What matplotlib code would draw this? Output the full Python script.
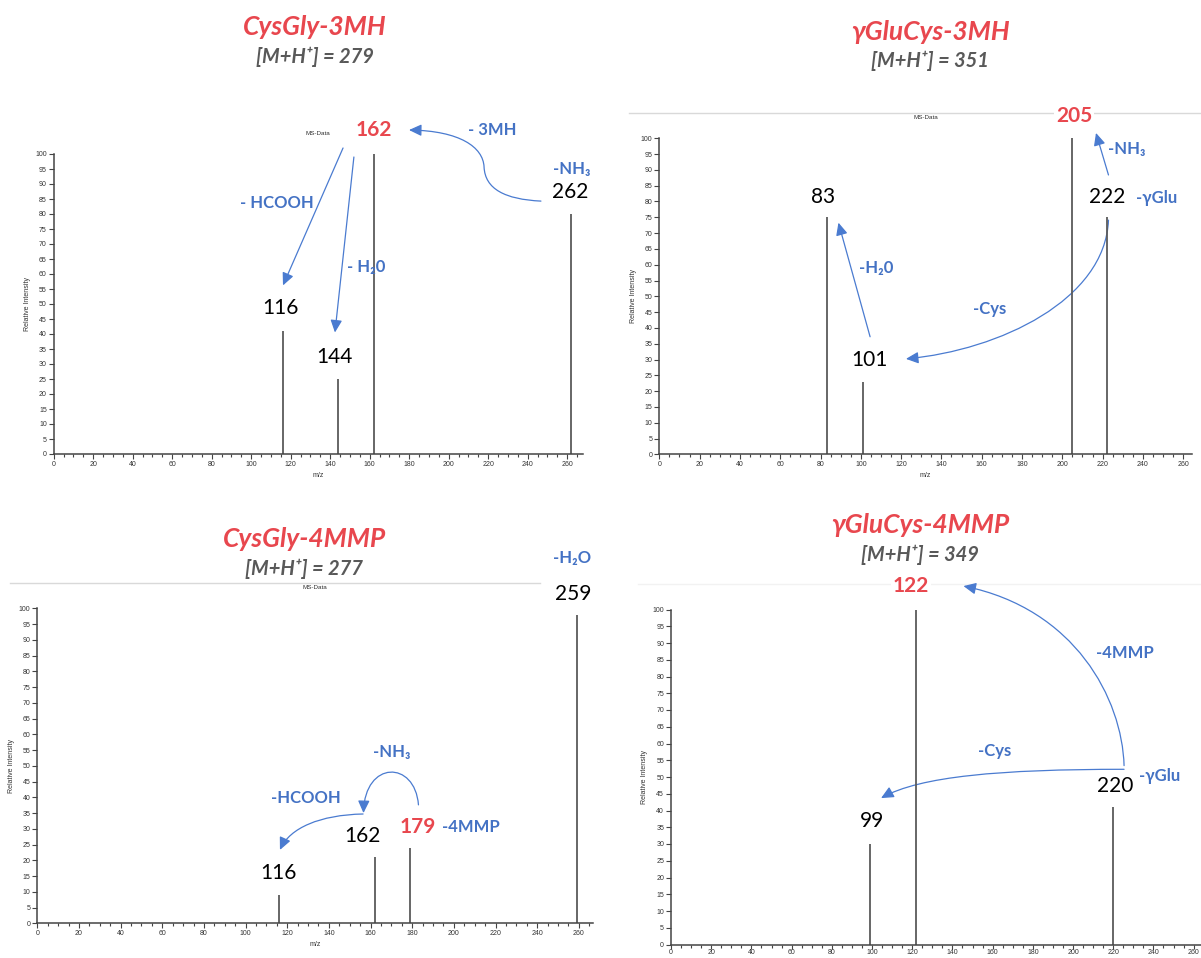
import matplotlib.pyplot as plt
from matplotlib.patches import FancyArrowPatch
from matplotlib.path import Path
from matplotlib.ticker import MultipleLocator
from matplotlib.lines import Line2D

# spectra (m/z, relative intensity)
titles = ["CysGly-3MH", "γGluCys-3MH", "CysGly-4MMP", "γGluCys-4MMP"]
precursors = [279, 351, 277, 349]

mz_cysgly_3mh = [116, 144, 162, 262]
int_cysgly_3mh = [41, 25, 100, 80]
mz_glucys_3mh = [83, 101, 205, 222]
int_glucys_3mh = [75, 23, 100, 75]
mz_cysgly_4mmp = [116, 162, 179, 259]
int_cysgly_4mmp = [9, 21, 24, 98]
mz_glucys_4mmp = [99, 122, 220]
int_glucys_4mmp = [30, 100, 41]

# labels: (text, m/z, y, kind)  kind: num = black peak, key = red peak, loss = blue neutral loss
labels_cysgly_3mh = [
    ("162", 162, 108, "key"), ("- 3MH", 222, 108, "loss"), ("-NH₃", 262.4, 95, "loss"),
    ("262", 261.4, 87.3, "num"), ("- HCOOH", 113, 83.6, "loss"), ("116", 115, 48.5, "num"),
    ("- H₂0", 158, 62.5, "loss"), ("144", 142, 32.4, "num"),
]
labels_glucys_3mh = [
    ("205", 205.8, 107, "key"), ("-NH₃", 232, 96.6, "loss"), ("222", 222.4, 81.4, "num"),
    ("-γGlu", 247, 81.1, "loss"), ("83", 81.2, 81.4, "num"), ("-H₂0", 107.6, 59, "loss"),
    ("101", 104.3, 29.8, "num"), ("-Cys", 164, 46, "loss"),
]
labels_cysgly_4mmp = [
    ("-H₂O", 256.7, 116, "loss"), ("259", 257.2, 104.5, "num"), ("-NH₃", 170.3, 54.4, "loss"),
    ("-HCOOH", 129, 39.8, "loss"), ("162", 156.1, 27.7, "num"), ("179", 182.8, 30.6, "key"),
    ("-4MMP", 208.4, 30.6, "loss"), ("116", 116, 16, "num"),
]
labels_glucys_4mmp = [
    ("122", 119.4, 107.1, "key"), ("-4MMP", 225.9, 87.1, "loss"), ("-Cys", 161, 57.7, "loss"),
    ("220", 220.9, 47.2, "num"), ("-γGlu", 243.3, 50.2, "loss"), ("99", 100.2, 36.8, "num"),
]

# fragmentation arrows as bezier control points in data units
arrows_cysgly_3mh = [
    [(146.5, 102), (116.1, 56.2)],
    [(152, 99), (142.4, 40.5)],
    [(246.7, 84.3), (228.5, 84.9), (218.4, 88.3), (217.9, 95.7),
     (217.4, 102.3), (205.7, 107.7), (179.9, 108)],
]
arrows_glucys_3mh = [
    [(222.9, 88.4), (216.7, 101.7)],
    [(104.6, 37.2), (88.9, 73.3)],
    [(222.9, 74.1), (221.2, 48.9), (169.1, 33), (122.4, 30.2)],
]
arrows_cysgly_4mmp = [
    [(183, 37.6), (181.3, 51.8), (157.3, 51.8), (156.6, 35)],
    [(156.4, 34.7), (135.7, 34.4), (121.3, 30.3), (116.5, 23.3)],
]
arrows_glucys_4mmp = [
    [(225.4, 53.4), (224.4, 73.4), (201, 100.2), (145.5, 107)],
    [(225.4, 52.3), (163.7, 52.3), (123.9, 50.2), (104.5, 43.7)],
]

RED = "#E8474E"
BLUE = "#4472C4"
ARROW = "#4A7BD0"
GRAY = "#595959"
ANNOT = ["Lato", "DejaVu Sans"]

plt.rcParams["font.family"] = ["Liberation Sans", "DejaVu Sans"]

W, H = 1201, 958
fig = plt.figure(figsize=(W / 100, H / 100), dpi=100)


def box(l, t, r, b):
    return [l / W, 1 - b / H, (r - l) / W, (b - t) / H]


def draw_arrow(ax, pts):
    n = len(pts)
    if n == 2:
        codes = [Path.MOVETO, Path.LINETO]
    else:
        codes = [Path.MOVETO] + [Path.CURVE4] * (n - 1)
    p = FancyArrowPatch(path=Path(pts, codes), transform=ax.transData,
                        arrowstyle="-|>,head_length=0.75,head_width=0.35",
                        mutation_scale=10, color=ARROW, lw=0.9, clip_on=False)
    ax.add_patch(p)


panels = [
    (mz_cysgly_3mh, int_cysgly_3mh, labels_cysgly_3mh, arrows_cysgly_3mh),
    (mz_glucys_3mh, int_glucys_3mh, labels_glucys_3mh, arrows_glucys_3mh),
    (mz_cysgly_4mmp, int_cysgly_4mmp, labels_cysgly_4mmp, arrows_cysgly_4mmp),
    (mz_glucys_4mmp, int_glucys_4mmp, labels_glucys_4mmp, arrows_glucys_4mmp),
]
frames = [(53.7, 154, 583, 454), (659.3, 138.3, 1191.7, 454.3),
          (37.3, 608.3, 593, 923.3), (671, 609.5, 1209.7, 944.5)]
xmax = [268, 264.2, 266.8, 268]
title_xy = [(315, 27), (930, 32), (305, 539), (920, 525)]
sub_xy = [(315, 57), (930, 61), (304, 569), (920, 555)]

# thin frame lines of the pasted instrument images
for x0, x1, y, c in [(629, 1201, 112.7, "#d9d9d9"), (10, 540, 583, "#d9d9d9"),
                     (638, 1201, 584, "#f2f2f2")]:
    fig.add_artist(Line2D([x0 / W, x1 / W], [1 - y / H] * 2, color=c, lw=1, zorder=-1))

for i, (mz, inten, labels, arrows) in enumerate(panels):
    ax = fig.add_axes(box(*frames[i]))
    ax.patch.set_alpha(0)
    ax.vlines(mz, 0, inten, color="#5a5a5a", lw=1.3)
    for sp in ["top", "right"]:
        ax.spines[sp].set_visible(False)
    for sp in ["left", "bottom"]:
        ax.spines[sp].set_color("#444444")
        ax.spines[sp].set_linewidth(1.1)
    ax.xaxis.set_major_locator(MultipleLocator(20))
    ax.xaxis.set_minor_locator(MultipleLocator(5))
    ax.yaxis.set_major_locator(MultipleLocator(5))
    ax.tick_params(labelsize=5, length=3.5, width=0.8, color="#444444",
                   labelcolor="#333333", pad=1.5)
    ax.tick_params(which="minor", length=2, width=0.8, color="#444444")
    ax.set_ylabel("Relative Intensity", fontsize=5, color="#333333", labelpad=3)
    if i < 3:
        ax.set_xlabel("m/z", fontsize=5, color="#333333", labelpad=3)
        ax.set_title("MS-Data", fontsize=4.5, color="#333333", pad=14)
    else:
        # last panel sits on the bottom edge of the figure, m/z label is cropped away
        ax.tick_params(axis="x", length=3, pad=0.5)

    for a in arrows:
        draw_arrow(ax, a)
    for txt, x, y, kind in labels:
        if kind == "num":
            ax.text(x, y, txt, fontsize=15, color="black", ha="center", va="center",
                    family=ANNOT, clip_on=False)
        elif kind == "key":
            ax.text(x, y, txt, fontsize=15, color=RED, fontweight="bold", ha="center",
                    va="center", family=ANNOT, clip_on=False,
                    bbox=dict(facecolor="white", edgecolor="none", pad=1))
        else:
            ax.text(x, y, txt, fontsize=12, color=BLUE, fontweight="bold", ha="center",
                    va="center", family=ANNOT, clip_on=False)
    ax.set_xlim(0, xmax[i])
    ax.set_ylim(0, 100)

    tx, ty = title_xy[i]
    fig.text(tx / W, 1 - ty / H, titles[i], fontsize=19, color=RED, fontweight="bold",
             style="italic", ha="center", va="center", family=ANNOT)
    sx, sy = sub_xy[i]
    fig.text(sx / W, 1 - sy / H, "[M+H⁺] = %d" % precursors[i], fontsize=14.5, color=GRAY,
             fontweight="bold", style="italic", ha="center", va="center", family=ANNOT)

fig.savefig("out.png", dpi=100)
